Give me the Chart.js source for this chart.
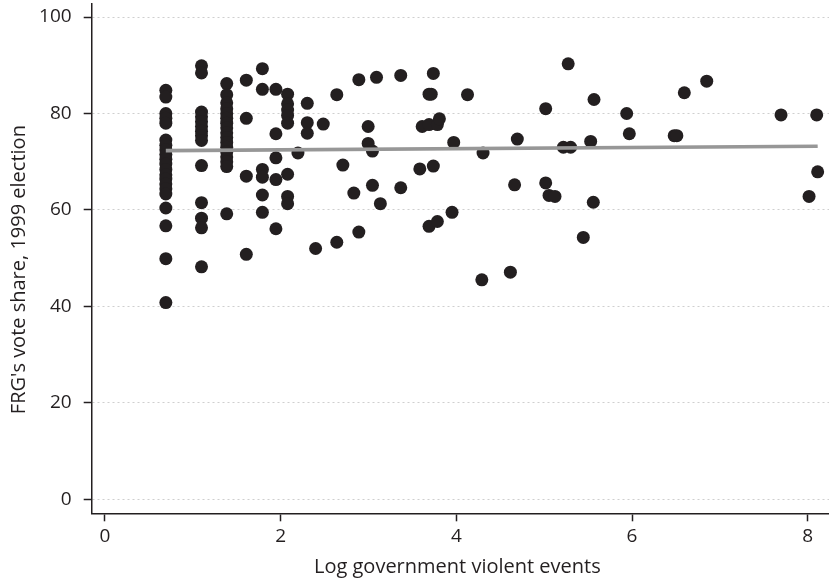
<!DOCTYPE html>
<html>
<head>
<meta charset="utf-8">
<script src="https://cdn.jsdelivr.net/npm/chart.js@4.4.1/dist/chart.umd.min.js"></script>
<style>
  html, body { margin: 0; padding: 0; background: #ffffff; }
  #wrap { width: 829px; height: 580px; position: relative; }
</style>
</head>
<body>
<div id="wrap"><canvas id="chart" width="829" height="580"></canvas></div>
<script>
// Municipalities: log count of government violent events vs. FRG vote share (1999)
const eventsLog = [
  0.693, 0.693, 0.693, 0.693, 0.693, 0.693, 0.693, 0.693, 0.693, 0.693, 0.693,
  0.693, 0.693, 0.693, 0.693, 0.693, 0.693, 0.693, 0.693, 0.693, 0.693,
  1.099, 1.099, 1.099, 1.099, 1.099, 1.099, 1.099, 1.099, 1.099, 1.099, 1.099,
  1.099, 1.099, 1.099,
  1.386, 1.386, 1.386, 1.386, 1.386, 1.386, 1.386, 1.386, 1.386, 1.386, 1.386,
  1.386, 1.386, 1.386, 1.386, 1.386, 1.386,
  1.609, 1.609, 1.609, 1.609,
  1.792, 1.792, 1.792, 1.792, 1.792, 1.792,
  1.946, 1.946, 1.946, 1.946, 1.946,
  2.079, 2.079, 2.079, 2.079, 2.079, 2.079, 2.079, 2.079,
  2.197,
  2.303, 2.303, 2.303,
  2.398,
  2.485,
  2.639, 2.639,
  2.708,
  2.833,
  2.890, 2.890,
  2.996, 2.996,
  3.045, 3.045,
  3.091,
  3.135,
  3.367, 3.367,
  3.584,
  3.611,
  3.689, 3.689, 3.689,
  3.714,
  3.738, 3.738,
  3.784, 3.784,
  3.807,
  3.951,
  3.970,
  4.127,
  4.290,
  4.304,
  4.615,
  4.663,
  4.694,
  5.017, 5.017,
  5.055,
  5.123,
  5.218,
  5.273,
  5.301,
  5.445,
  5.529,
  5.559,
  5.567,
  5.939,
  5.969,
  6.480, 6.510,
  6.595,
  6.850,
  7.696,
  8.015,
  8.102,
  8.113
];

const voteShare = [
  84.8, 83.4, 80.0, 79.0, 78.0, 74.5, 73.4, 72.5, 71.5, 70.5, 69.5,
  68.4, 67.3, 66.4, 65.4, 64.4, 63.3, 60.4, 56.7, 49.9, 40.8,
  89.9, 88.4, 80.3, 79.3, 78.3, 77.3, 76.3, 75.4, 74.4, 69.2, 61.5,
  58.3, 56.3, 48.2,
  86.2, 83.9, 82.2, 81.0, 80.0, 79.0, 78.0, 77.0, 76.0, 75.0, 74.0,
  73.0, 72.0, 71.0, 70.0, 69.0, 59.2,
  86.9, 79.0, 67.0, 50.8,
  89.3, 85.0, 68.4, 66.8, 63.1, 59.5,
  85.0, 75.8, 70.8, 66.3, 56.1,
  84.0, 82.0, 80.7, 79.6, 78.0, 67.4, 62.8, 61.3,
  71.8,
  82.1, 78.1, 75.9,
  52.0,
  77.8,
  83.9, 53.3,
  69.3,
  63.5,
  87.0, 55.4,
  77.3, 73.8,
  72.2, 65.1,
  87.5,
  61.3,
  87.9, 64.6,
  68.5,
  77.3,
  84.0, 77.7, 56.6,
  84.0,
  88.3, 69.1,
  77.7, 57.6,
  78.9,
  59.5,
  74.0,
  83.9,
  45.5,
  71.8,
  47.1,
  65.2,
  74.7,
  81.0, 65.6,
  63.0,
  62.8,
  73.0,
  90.3,
  73.0,
  54.3,
  74.2,
  61.6,
  82.9,
  80.0,
  75.8,
  75.4, 75.4,
  84.3,
  86.7,
  79.7,
  62.8,
  79.7,
  67.9
];

// Linear fit endpoints
const fitX = [0.693, 8.113];
const fitY = [72.3, 73.2];

const xTicks = [0, 2, 4, 6, 8];
const yTicks = [0, 20, 40, 60, 80, 100];

const xTitle = 'Log government violent events';
const yTitle = "FRG's vote share, 1999 election";

const ink = '#231f20';
const fontFamily = '"Open Sans", "Noto Sans", sans-serif';

const points = eventsLog.map((x, i) => ({ x: x, y: voteShare[i] }));
const fitLine = fitX.map((x, i) => ({ x: x, y: fitY[i] }));

// Axis titles drawn relative to the plot area
const axisTitles = {
  id: 'axisTitles',
  afterDraw(chart) {
    const ctx = chart.ctx;
    const area = chart.chartArea;
    ctx.save();
    ctx.fillStyle = ink;
    ctx.font = '20px ' + fontFamily;
    ctx.textAlign = 'center';
    ctx.textBaseline = 'alphabetic';
    ctx.fillText(xTitle, (area.left + area.right) / 2 - 3, area.bottom + 60);
    ctx.translate(area.left - 67, (area.top + area.bottom) / 2 + 11);
    ctx.rotate(-Math.PI / 2);
    ctx.fillText(yTitle, 0, 0);
    ctx.restore();
  }
};

// Let the plot area run right up to the axis ends (no label overhang padding)
function noOverhang(scale) {
  scale.paddingTop = 0;
  scale.paddingBottom = 0;
  scale.paddingLeft = 0;
  scale.paddingRight = 0;
}

new Chart(document.getElementById('chart'), {
  type: 'scatter',
  data: {
    datasets: [
      {
        type: 'line',
        label: 'Fitted values',
        data: fitLine,
        borderColor: '#979797',
        borderWidth: 3.6,
        pointRadius: 0,
        fill: false,
        tension: 0,
        order: 0
      },
      {
        label: 'FRG vote share',
        data: points,
        backgroundColor: ink,
        borderWidth: 0,
        pointRadius: 6.5,
        pointHoverRadius: 6.5,
        order: 1
      }
    ]
  },
  options: {
    responsive: false,
    devicePixelRatio: 1,
    animation: false,
    events: [],
    layout: { autoPadding: false, padding: { top: 4, right: 0, left: 0, bottom: 0 } },
    plugins: {
      legend: { display: false },
      tooltip: { enabled: false },
      title: { display: false }
    },
    scales: {
      x: {
        type: 'linear',
        min: -0.151,
        max: 8.242,
        afterFit(scale) { scale.height = 66.7; noOverhang(scale); },
        afterBuildTicks(scale) { scale.ticks = xTicks.map(v => ({ value: v })); },
        grid: {
          drawOnChartArea: false,
          drawTicks: true,
          tickLength: 8,
          tickColor: ink,
          tickWidth: 1.5,
          tickBorderDash: []
        },
        border: { display: true, color: ink, width: 1.5 },
        ticks: {
          color: ink,
          font: { family: fontFamily, size: 19 },
          padding: 4,
          maxRotation: 0
        }
      },
      y: {
        type: 'linear',
        min: -2.9,
        max: 102.7,
        afterFit(scale) { scale.width = 91.7; noOverhang(scale); },
        afterBuildTicks(scale) { scale.ticks = yTicks.map(v => ({ value: v })); },
        grid: {
          drawOnChartArea: true,
          color: '#cfcfcf',
          lineWidth: 1,
          drawTicks: true,
          tickLength: 8,
          tickColor: ink,
          tickWidth: 1.5,
          tickBorderDash: []
        },
        border: { display: true, color: ink, width: 1.5, dash: [2, 3] },
        ticks: {
          color: ink,
          font: { family: fontFamily, size: 19 },
          padding: 12
        }
      }
    }
  },
  plugins: [axisTitles]
});
</script>
</body>
</html>
